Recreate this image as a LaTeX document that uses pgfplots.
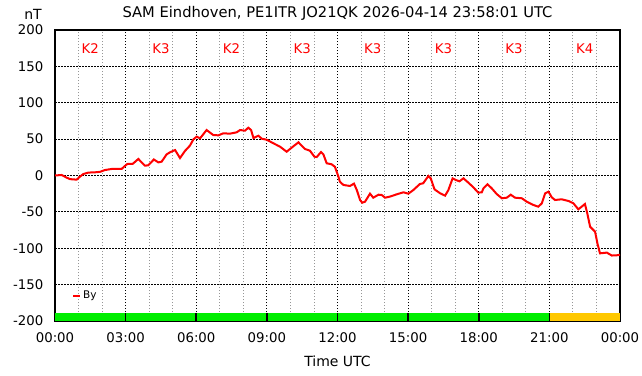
\documentclass[border=0pt]{standalone}
\usepackage{fontspec}
\setmainfont{DejaVu Sans}
\usepackage{pgfplots}
\pgfplotsset{compat=1.18}
\definecolor{kgreen}{RGB}{0,238,0}
\definecolor{korange}{RGB}{255,200,0}
\definecolor{mgray}{RGB}{150,150,150}
\newcommand{\fs}{\fontsize{13.3bp}{16bp}\selectfont}
\tikzset{kl/.style={text=red, font=\fs}}
\begin{document}
\fs
\begin{tikzpicture}
\begin{axis}[
  scale only axis,
  width=565bp, height=291bp,
  xmin=0, xmax=24, ymin=-200, ymax=200,
  xtick={0,3,...,24},
  xticklabels={00:00,03:00,06:00,09:00,12:00,15:00,18:00,21:00,00:00},
  minor xtick={1,2,4,5,7,8,10,11,13,14,16,17,19,20,22,23},
  ytick={-200,-150,...,200},
  major tick length=0pt, minor tick length=0pt,
  grid=both,
  major grid style={black, line width=0.9bp, dash pattern=on 1.5bp off 1.5bp},
  minor grid style={mgray, line width=0.9bp, dash pattern=on 1.5bp off 1.5bp},
  axis line style={black, line width=1.2bp},
  /pgf/number format/assume math mode=true,
  tick label style={font=\fs},
  yticklabel style={xshift=-7bp},
  xticklabel style={yshift=-7bp},
  xlabel={Time UTC},
  xlabel style={font=\fontsize{14bp}{16bp}\selectfont, yshift=-4bp},
  legend style={draw=none, fill=none, at={(0.03,0.086)}, anchor=west,
    font=\fontsize{10.5bp}{12bp}\selectfont, inner sep=0pt},
  legend cell align=left,
  legend image code/.code={\draw[#1, line width=2bp] (0bp,0bp) -- (7bp,0bp);},
]
\addplot[fill=kgreen, draw=none, forget plot] coordinates {(0,-200) (0,-189.5) (21,-189.5) (21,-200)} -- cycle;
\addplot[fill=korange, draw=none, forget plot] coordinates {(21,-200) (21,-189.5) (24,-189.5) (24,-200)} -- cycle;
\addplot[black, line width=1.6bp, forget plot, unbounded coords=jump] coordinates {
(3,-200) (3,-189.5) (3,nan) (6,-200) (6,-189.5) (6,nan) (9,-200) (9,-189.5) (9,nan)
(12,-200) (12,-189.5) (12,nan) (15,-200) (15,-189.5) (15,nan) (18,-200) (18,-189.5) (18,nan)
(21,-200) (21,-189.5)};
\addplot[red, line width=2bp] coordinates {
(0.00,0) (0.28,0.7) (0.5,-3) (0.64,-5) (0.92,-5.7) (1.06,-1.6) (1.2,2) (1.42,4)
(1.7,4.4) (1.91,5) (2.12,7.5) (2.41,9) (2.83,9) (2.93,12) (3.07,15.8) (3.3,16)
(3.54,22.7) (3.82,13.5) (3.96,14) (4.2,22) (4.39,18) (4.53,19) (4.74,29) (4.89,32)
(5.1,35) (5.31,24) (5.52,33.7) (5.73,41) (5.88,49.7) (6.02,53.4) (6.16,51) (6.44,62.5)
(6.72,55.7) (6.94,55.2) (7.15,58) (7.43,57.5) (7.72,59.4) (7.86,62.5) (8.07,61.6) (8.21,65.7)
(8.33,62.5) (8.43,51.5) (8.64,54.7) (8.78,50.6) (8.99,49.2) (9.28,44.2) (9.56,39.6) (9.84,32.7)
(10.05,38.2) (10.34,45.6) (10.62,36.4) (10.83,34.1) (11.02,25.8) (11.12,25.4) (11.3,32.3) (11.4,29.1)
(11.54,16.8) (11.75,15.4) (11.89,12) (12.04,-1.6) (12.1,-8.5) (12.25,-13) (12.53,-14.4) (12.7,-11.2)
(12.82,-20) (12.96,-33.7) (13.05,-37.4) (13.17,-36) (13.38,-25) (13.52,-30.5) (13.74,-26.4) (13.88,-26.8)
(14.02,-30.5) (14.23,-29) (14.51,-25.9) (14.8,-23.1) (15.01,-25) (15.22,-20) (15.5,-11.7) (15.64,-10.7)
(15.86,-0.7) (15.96,-3.9) (16.12,-19) (16.36,-24.5) (16.57,-27.7) (16.71,-20) (16.89,-3.9) (17.03,-6.2)
(17.18,-8) (17.35,-3.9) (17.56,-9.9) (17.77,-16.2) (17.98,-23.6) (18.13,-23.1) (18.2,-17.6) (18.37,-12.1)
(18.55,-17.6) (18.76,-25.4) (18.98,-31.3) (19.19,-30.5) (19.36,-26.4) (19.54,-30.5) (19.83,-31.3) (20.04,-36)
(20.32,-40.5) (20.53,-42.9) (20.68,-38.2) (20.82,-24.5) (20.96,-22.2) (21.1,-30) (21.24,-33.7) (21.52,-32.7)
(21.81,-35) (22.02,-38.2) (22.23,-46.5) (22.37,-42.9) (22.51,-39.2) (22.61,-52) (22.73,-70.4) (22.94,-77.2)
(23.04,-93.2) (23.15,-107) (23.44,-106) (23.65,-110) (23.86,-109.7) (24.0,-108.9)};
\addlegendentry{By}
\node[kl] at (axis cs:1.5,174) {K2};
\node[kl] at (axis cs:4.5,174) {K3};
\node[kl] at (axis cs:7.5,174) {K2};
\node[kl] at (axis cs:10.5,174) {K3};
\node[kl] at (axis cs:13.5,174) {K3};
\node[kl] at (axis cs:16.5,174) {K3};
\node[kl] at (axis cs:19.5,174) {K3};
\node[kl] at (axis cs:22.5,174) {K4};
\coordinate (BL) at (rel axis cs:0,0);
\coordinate (TR) at (rel axis cs:1,1);
\coordinate (TL) at (rel axis cs:0,1);
\coordinate (TM) at (rel axis cs:0.5,1);
\end{axis}
\node[anchor=base, font=\fontsize{14bp}{16bp}\selectfont, inner sep=0pt] at ([shift={(-22bp,10bp)}]TL) {nT};
\node[anchor=base, font=\fontsize{14.7bp}{17bp}\selectfont, inner sep=0pt] at ([shift={(0bp,12bp)}]TM) {SAM Eindhoven, PE1ITR JO21QK 2026-04-14 23:58:01 UTC};
\pgfresetboundingbox
\path ([shift={(-55bp,-55bp)}]BL) rectangle ([shift={(22bp,30bp)}]TR);
\end{tikzpicture}
\end{document}
